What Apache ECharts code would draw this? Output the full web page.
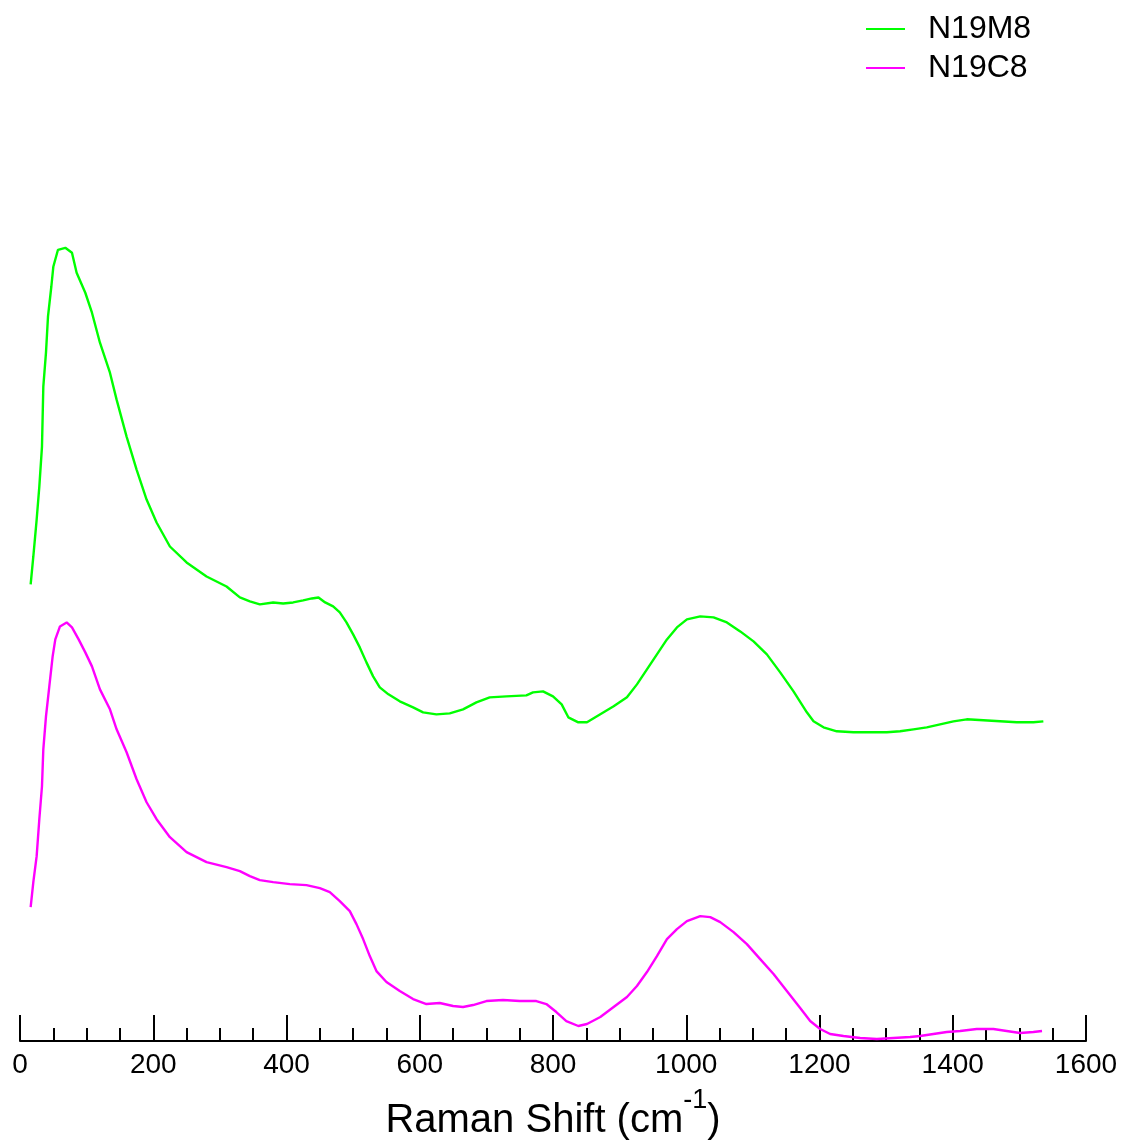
<!DOCTYPE html>
<html>
<head>
<meta charset="utf-8">
<script src="https://cdn.jsdelivr.net/npm/echarts@6/dist/echarts.min.js"></script>
<style>
html,body{margin:0;padding:0;background:#fff;}
#chart{width:1126px;height:1146px;}
</style>
</head>
<body>
<div id="chart"></div>
<script>
// Raman shift (cm^-1) and intensity (arbitrary units)
const seriesNames = ['N19M8', 'N19C8'];
const xTicks = [0, 200, 400, 600, 800, 1000, 1200, 1400, 1600];

const m8X = [16,20,25,29,33,35,39,42,47,50,57,68,78,85,98,108,120,135,145,160,175,190,205,225,250,280,310,330,345,360,380,395,410,425,438,448,458,470,480,490,500,510,520,530,540,553,570,590,605,625,645,665,685,705,730,760,770,785,800,813,823,838,851,871,891,911,926,941,956,971,986,1001,1021,1041,1061,1081,1101,1121,1141,1161,1181,1191,1206,1226,1251,1276,1301,1321,1341,1361,1381,1401,1421,1446,1471,1496,1521,1536];
const m8Y = [457,485,522,555,595,655,689,725,755,775,792,794,789,769,749,729,699,669,642,605,572,542,519,495,479,465,455,444,440,437,439,438,439,441,443,444,439,435,429,419,407,394,379,365,354,347,340,334,329,327,328,332,339,344,345,346,349,350,345,337,324,319,319,327,335,344,357,372,387,402,414,422,425,424,419,410,400,387,369,350,329,320,314,310,309,309,309,310,312,314,317,320,322,321,320,319,319,320];

const c8X = [16,20,25,29,33,35,39,44,49,53,60,70,78,88,98,108,120,135,145,160,175,190,205,225,250,280,310,330,345,360,380,405,430,450,465,480,495,505,515,525,535,550,570,590,610,630,650,665,680,700,725,750,775,790,805,820,838,851,871,891,911,926,941,956,971,986,1001,1021,1036,1051,1071,1091,1111,1131,1151,1171,1186,1201,1216,1236,1261,1286,1311,1336,1351,1371,1391,1411,1436,1461,1481,1501,1521,1534];
const c8Y = [134,159,185,222,255,292,325,355,385,402,415,419,414,402,389,375,352,332,312,289,262,239,222,204,189,179,174,170,165,161,159,157,156,153,149,140,130,117,102,85,70,59,50,42,37,38,35,34,36,40,41,40,40,37,29,20,15,17,24,34,44,55,69,85,102,112,120,125,124,119,109,97,82,67,50,33,20,12,7,5,3,2,3,4,5,7,9,10,12,12,10,8,9,10];

const colors = ['#00ff00', '#ff00ff'];

function pairs(xs, ys) { return xs.map((x, i) => [x, ys[i]]); }

const chart = echarts.init(document.getElementById('chart'), null, {renderer: 'canvas'});
const font = 'Liberation Sans, Arial, Helvetica, sans-serif';

chart.setOption({
  backgroundColor: '#ffffff',
  animation: false,
  textStyle: {fontFamily: font},
  legend: {
    orient: 'vertical',
    left: 861,
    top: 8,
    icon: 'rect',
    itemWidth: 39,
    itemHeight: 2,
    itemGap: 7,
    data: seriesNames,
    textStyle: {fontFamily: font, fontSize: 32, color: '#000', padding: [0, 0, 0, 18]}
  },
  grid: {left: 20, right: 40, top: 42, bottom: 104, containLabel: false},
  xAxis: {
    type: 'value',
    min: 0,
    max: 1600,
    interval: 200,
    name: '{a|Raman Shift (cm}{s|-1}{a|)}',
    nameLocation: 'middle',
    nameGap: 46,
    nameTextStyle: {
      fontFamily: font,
      rich: {
        a: {fontSize: 40, color: '#000', fontFamily: font, lineHeight: 54, verticalAlign: 'bottom'},
        s: {fontSize: 27, color: '#000', fontFamily: font, lineHeight: 54, verticalAlign: 'top'}
      }
    },
    axisLine: {show: true, onZero: false, lineStyle: {color: '#000', width: 2}},
    axisTick: {show: true, inside: true, length: 26, lineStyle: {color: '#000', width: 2}},
    minorTick: {show: true, splitNumber: 4, length: 13, lineStyle: {color: '#000', width: 2}},
    axisLabel: {
      fontSize: 28, color: '#000', fontFamily: font, margin: 10,
      formatter: v => xTicks.includes(v) ? String(v) : ''
    },
    splitLine: {show: false},
    minorSplitLine: {show: false}
  },
  yAxis: {
    type: 'value',
    min: 0,
    max: 1000,
    show: false,
    splitLine: {show: false}
  },
  series: [
    {
      name: seriesNames[0], type: 'line', data: pairs(m8X, m8Y),
      showSymbol: false, symbol: 'none', smooth: false,
      lineStyle: {color: colors[0], width: 2.4}, itemStyle: {color: colors[0]}
    },
    {
      name: seriesNames[1], type: 'line', data: pairs(c8X, c8Y),
      showSymbol: false, symbol: 'none', smooth: false,
      lineStyle: {color: colors[1], width: 2.4}, itemStyle: {color: colors[1]}
    }
  ]
});
</script>
</body>
</html>
